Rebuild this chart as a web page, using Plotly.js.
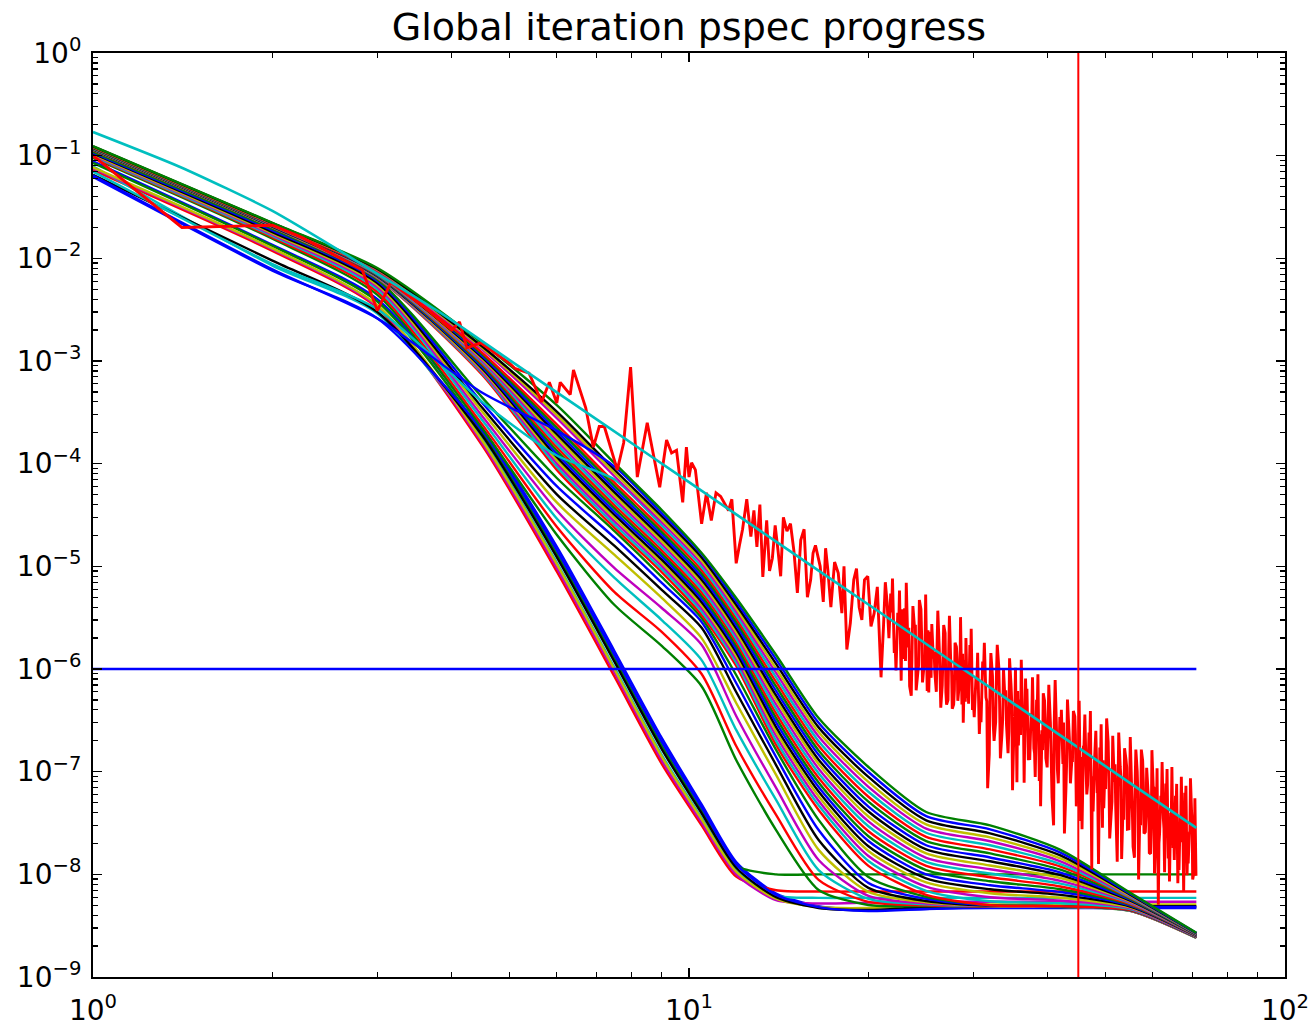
<!DOCTYPE html>
<html><head><meta charset="utf-8">
<script src="https://cdn.plot.ly/plotly-3.0.1.min.js"></script>
<style>html,body{margin:0;padding:0;background:#fff;} #chart{width:1315px;height:1026px;}</style>
</head><body><div id="chart"></div>
<script>
// shared wavenumber grid of the iteration spectra
const K_GRID = [1, 2, 3, 4.5, 6, 7.5, 9, 10.5, 12, 14, 16.5, 20, 25, 32, 42, 55, 71];

// iteration power spectra
const it00 = [0.088, 0.0135, 4.0e-3, 2.21e-4, 1.56e-5, 1.49e-6, 2.13e-7, 4.8e-8, 1.32e-8, 6.5e-9, 4.9e-9, 4.5e-9, 4.6e-9, 4.7e-9, 4.7e-9, 4.7e-9, 4.7e-9];
const it01 = [0.085, 0.0132, 3.8e-3, 1.98e-4, 1.33e-5, 1.26e-6, 1.80e-7, 4.19e-8, 1.21e-8, 1.0e-8, 1.0e-8, 1.0e-8, 1.0e-8, 1.0e-8, 1.0e-8, 1.0e-8, 1.0e-8];
const it02 = [0.072, 0.0118, 3.3e-3, 1.50e-4, 8.9e-6, 8.4e-7, 1.19e-7, 3.0e-8, 9.5e-9, 7.0e-9, 6.8e-9, 6.8e-9, 6.8e-9, 6.8e-9, 6.8e-9, 6.8e-9, 6.8e-9];
const it03 = [0.079, 0.0085, 2.9e-3, 1.72e-4, 1.09e-5, 1.03e-6, 1.46e-7, 3.54e-8, 1.08e-8, 6.2e-9, 5.9e-9, 5.9e-9, 5.9e-9, 5.9e-9, 5.9e-9, 5.9e-9, 5.9e-9];
const it04 = [0.075, 0.0122, 3.4e-3, 1.58e-4, 9.65e-6, 9.2e-7, 1.29e-7, 3.2e-8, 1.0e-8, 5.6e-9, 5.2e-9, 5.3e-9, 5.4e-9, 5.4e-9, 5.4e-9, 5.4e-9, 5.4e-9];
const it05 = [0.077, 0.0125, 3.5e-3, 1.67e-4, 1.05e-5, 9.9e-7, 1.40e-7, 3.43e-8, 1.06e-8, 5.8e-9, 4.8e-9, 4.7e-9, 5.0e-9, 5.1e-9, 5.1e-9, 5.1e-9, 5.1e-9];
const it06 = [0.065, 0.0095, 3.0e-3, 1.87e-4, 1.23e-5, 1.17e-6, 1.66e-7, 3.92e-8, 1.16e-8, 6.0e-9, 4.7e-9, 4.5e-9, 4.8e-9, 4.9e-9, 4.9e-9, 4.9e-9, 4.9e-9];
const it07 = [0.062, 0.0076, 2.6e-3, 2.09e-4, 1.44e-5, 1.37e-6, 1.96e-7, 4.48e-8, 1.25e-8, 6.3e-9, 4.8e-9, 4.4e-9, 4.6e-9, 4.8e-9, 4.8e-9, 4.8e-9, 4.8e-9];
const it08 = [0.095, 0.0155, 4.4e-3, 2.2e-4, 2.03e-5, 4.2e-6, 1.68e-6, 6.8e-7, 1.3e-7, 2.7e-8, 7.05e-9, 5.03e-9, 4.9e-9, 4.85e-9, 4.8e-9, 4.4e-9, 2.40e-9];
const it09 = [0.097, 0.016, 4.7e-3, 2.4e-4, 2.43e-5, 5.6e-6, 2.3e-6, 8.94e-7, 1.78e-7, 3.79e-8, 8.82e-9, 5.39e-9, 5.0e-9, 4.87e-9, 4.82e-9, 4.42e-9, 2.41e-9];
const it10 = [0.099, 0.0165, 5.0e-3, 2.65e-4, 2.92e-5, 7.7e-6, 3.0e-6, 1.22e-6, 2.55e-7, 5.3e-8, 1.10e-8, 5.77e-9, 5.1e-9, 4.9e-9, 4.84e-9, 4.44e-9, 2.42e-9];
const it11 = [0.101, 0.017, 5.25e-3, 2.9e-4, 3.5e-5, 9.6e-6, 3.93e-6, 1.72e-6, 3.49e-7, 6.94e-8, 1.38e-8, 6.17e-9, 5.2e-9, 4.92e-9, 4.86e-9, 4.46e-9, 2.43e-9];
const it12 = [0.103, 0.0175, 5.5e-3, 3.2e-4, 4.19e-5, 1.29e-5, 4.92e-6, 2.0e-6, 4.67e-7, 9.29e-8, 1.73e-8, 6.75e-9, 5.35e-9, 4.94e-9, 4.88e-9, 4.47e-9, 2.43e-9];
const it13 = [0.105, 0.018, 5.75e-3, 3.5e-4, 5.03e-5, 1.58e-5, 5.89e-6, 2.52e-6, 5.97e-7, 1.16e-7, 2.16e-8, 7.39e-9, 5.5e-9, 4.96e-9, 4.9e-9, 4.48e-9, 2.44e-9];
const it14 = [0.107, 0.0187, 6.0e-3, 3.9e-4, 6.03e-5, 1.9e-5, 6.89e-6, 2.87e-6, 7.3e-7, 1.39e-7, 2.70e-8, 8.25e-9, 5.77e-9, 4.98e-9, 4.9e-9, 4.49e-9, 2.45e-9];
const it15 = [0.109, 0.0193, 6.2e-3, 4.4e-4, 7.25e-5, 2.2e-5, 7.88e-6, 3.14e-6, 8.74e-7, 1.63e-7, 3.39e-8, 9.43e-9, 6.03e-9, 5.0e-9, 4.9e-9, 4.5e-9, 2.46e-9];
const it16 = [0.113, 0.0200, 6.40e-3, 7.30e-4, 8.7e-5, 2.37e-5, 8.8e-6, 3.36e-6, 1.07e-6, 1.82e-7, 4.24e-8, 1.21e-8, 6.30e-9, 5.00e-9, 4.90e-9, 4.50e-9, 2.46e-9];
const it17 = [0.114, 0.0201, 6.47e-3, 7.57e-4, 9.36e-5, 2.55e-5, 9.43e-6, 3.61e-6, 1.155e-6, 2.01e-7, 4.70e-8, 1.35e-8, 6.91e-9, 5.47e-9, 5.22e-9, 4.59e-9, 2.47e-9];
const it18 = [0.114, 0.0202, 6.55e-3, 7.84e-4, 1.006e-4, 2.74e-5, 1.01e-5, 3.88e-6, 1.246e-6, 2.23e-7, 5.21e-8, 1.51e-8, 7.59e-9, 5.98e-9, 5.56e-9, 4.67e-9, 2.48e-9];
const it19 = [0.115, 0.0203, 6.62e-3, 8.12e-4, 1.082e-4, 2.94e-5, 1.08e-5, 4.17e-6, 1.345e-6, 2.46e-7, 5.77e-8, 1.69e-8, 8.33e-9, 6.54e-9, 5.92e-9, 4.76e-9, 2.50e-9];
const it20 = [0.115, 0.0204, 6.70e-3, 8.42e-4, 1.164e-4, 3.17e-5, 1.16e-5, 4.48e-6, 1.452e-6, 2.72e-7, 6.40e-8, 1.88e-8, 9.14e-9, 7.15e-9, 6.30e-9, 4.86e-9, 2.51e-9];
const it21 = [0.116, 0.0206, 6.78e-3, 8.72e-4, 1.251e-4, 3.40e-5, 1.25e-5, 4.81e-6, 1.566e-6, 3.02e-7, 7.09e-8, 2.11e-8, 1.00e-8, 7.83e-9, 6.72e-9, 4.95e-9, 2.52e-9];
const it22 = [0.116, 0.0207, 6.85e-3, 9.04e-4, 1.345e-4, 3.66e-5, 1.34e-5, 5.17e-6, 1.69e-6, 3.34e-7, 7.86e-8, 2.35e-8, 1.10e-8, 8.56e-9, 7.15e-9, 5.05e-9, 2.53e-9];
const it23 = [0.117, 0.0208, 6.93e-3, 9.37e-4, 1.447e-4, 3.93e-5, 1.43e-5, 5.55e-6, 1.824e-6, 3.69e-7, 8.71e-8, 2.63e-8, 1.21e-8, 9.36e-9, 7.62e-9, 5.14e-9, 2.54e-9];
const it24 = [0.117, 0.0209, 7.01e-3, 9.70e-4, 1.556e-4, 4.23e-5, 1.54e-5, 5.97e-6, 1.969e-6, 4.08e-7, 9.65e-8, 2.94e-8, 1.32e-8, 1.02e-8, 8.11e-9, 5.24e-9, 2.55e-9];
const it25 = [0.118, 0.0210, 7.10e-3, 1.005e-3, 1.673e-4, 4.54e-5, 1.65e-5, 6.41e-6, 2.125e-6, 4.52e-7, 1.07e-7, 3.28e-8, 1.45e-8, 1.12e-8, 8.64e-9, 5.34e-9, 2.57e-9];
const it26 = [0.119, 0.0211, 7.18e-3, 1.042e-3, 1.80e-4, 4.88e-5, 1.76e-5, 6.89e-6, 2.294e-6, 5.00e-7, 1.19e-7, 3.66e-8, 1.60e-8, 1.22e-8, 9.21e-9, 5.45e-9, 2.58e-9];
const it27 = [0.119, 0.0212, 7.26e-3, 1.080e-3, 1.936e-4, 5.25e-5, 1.89e-5, 7.40e-6, 2.476e-6, 5.53e-7, 1.31e-7, 4.09e-8, 1.75e-8, 1.34e-8, 9.81e-9, 5.55e-9, 2.59e-9];
const it28 = [0.120, 0.0213, 7.34e-3, 1.119e-3, 2.08e-4, 5.65e-5, 2.03e-5, 7.95e-6, 2.672e-6, 6.11e-7, 1.46e-7, 4.57e-8, 1.92e-8, 1.46e-8, 1.04e-8, 5.66e-9, 2.60e-9];
const it29 = [0.120, 0.0214, 7.43e-3, 1.160e-3, 2.24e-4, 6.07e-5, 2.17e-5, 8.54e-6, 2.884e-6, 6.76e-7, 1.61e-7, 5.11e-8, 2.11e-8, 1.60e-8, 1.11e-8, 5.77e-9, 2.61e-9];
const it30 = [0.121, 0.0215, 7.51e-3, 1.202e-3, 2.41e-4, 6.53e-5, 2.33e-5, 9.18e-6, 3.11e-6, 7.48e-7, 1.79e-7, 5.70e-8, 2.32e-8, 1.75e-8, 1.19e-8, 5.88e-9, 2.62e-9];
const it31 = [0.070, 0.0088, 3.2e-3, 4.0e-4, 1.2e-4, 7.02e-5, 2.50e-5, 9.87e-6, 3.36e-6, 8.28e-7, 1.98e-7, 6.37e-8, 2.54e-8, 1.92e-8, 1.26e-8, 5.99e-9, 2.64e-9];
const it32 = [0.122, 0.0218, 7.69e-3, 1.290e-3, 2.78e-4, 7.54e-5, 2.68e-5, 1.06e-5, 3.63e-6, 9.16e-7, 2.20e-7, 7.12e-8, 2.79e-8, 2.10e-8, 1.34e-8, 6.11e-9, 2.65e-9];
const it33 = [0.122, 0.0219, 7.78e-3, 1.337e-3, 2.99e-4, 8.11e-5, 2.87e-5, 1.14e-5, 3.91e-6, 1.01e-6, 2.43e-7, 7.95e-8, 3.06e-8, 2.29e-8, 1.43e-8, 6.22e-9, 2.66e-9];
const it34 = [0.123, 0.0220, 7.87e-3, 1.386e-3, 3.22e-4, 8.72e-5, 3.08e-5, 1.22e-5, 4.22e-6, 1.12e-6, 2.70e-7, 8.88e-8, 3.36e-8, 2.51e-8, 1.53e-8, 6.34e-9, 2.67e-9];
const it35 = [0.064, 0.0078, 2.6e-3, 4.9e-4, 2.1e-4, 9.37e-5, 3.30e-5, 1.31e-5, 4.56e-6, 1.24e-6, 2.99e-7, 9.92e-8, 3.69e-8, 2.74e-8, 1.63e-8, 6.47e-9, 2.68e-9];
const it36 = [0.124, 0.0222, 8.05e-3, 1.490e-3, 3.72e-4, 1.01e-4, 3.54e-5, 1.35e-5, 4.92e-6, 1.37e-6, 3.33e-7, 1.11e-7, 4.05e-8, 3.00e-8, 1.73e-8, 6.60e-9, 2.70e-9];

// measured (noisy) power spectrum, split by wavenumber range
const dataK1 = [1, 1.41, 2, 2.24, 2.83, 3, 3.16, 3.61, 4, 4.12, 4.24, 4.47, 5, 5.1, 5.39, 5.66, 5.83, 6, 6.08, 6.32, 6.4, 6.71, 6.91, 7.07, 7.21, 7.58, 7.77, 7.98, 8.19, 8.51, 8.93, 9.17, 9.35, 9.53, 9.76, 9.9, 10, 10.1, 10.25];
const dataP1 = [0.10, 0.020, 0.021, 0.016, 7.7e-3, 3.1e-3, 5.8e-3, 3.3e-3, 2.0e-3, 2.4e-3, 1.34e-3, 1.5e-3, 9.5e-4, 8.5e-4, 7.6e-4, 4.0e-4, 6.2e-4, 3.9e-4, 6.2e-4, 4.7e-4, 8.2e-4, 3.5e-4, 1.45e-4, 2.3e-4, 2.3e-4, 8.7e-5, 1.6e-4, 8.7e-4, 7.4e-5, 2.5e-4, 5.9e-5, 1.7e-4, 1.27e-4, 1.35e-4, 4.2e-5, 1.45e-4, 7.4e-5, 1.02e-4, 8.7e-5];
const dataK2 = [10.5, 10.7, 10.9, 11.1, 11.3, 11.65, 11.8, 12, 12.15, 12.3, 12.5, 12.7, 12.85, 13, 13.15, 13.3, 13.5, 13.65, 13.8, 13.95, 14.1, 14.25, 14.4, 14.6, 14.8, 15.0, 15.2, 15.4, 15.6, 15.8, 16, 16.15, 16.3, 16.6, 16.8, 16.95, 17.1, 17.3, 17.55, 17.8, 18.05, 18.2, 18.4, 18.65, 18.9, 19.1, 19.3, 19.5, 19.7, 19.95, 20.2, 20.45, 20.7, 21, 21.2, 21.35, 21.5, 21.65];
const dataP2 = [2.6e-5, 5.2e-5, 2.8e-5, 5.2e-5, 4.8e-5, 3.5e-5, 4.5e-5, 1.07e-5, 1.6e-5, 2.3e-5, 4.5e-5, 1.95e-5, 3.5e-5, 1.55e-5, 4.0e-5, 7.9e-6, 2.8e-5, 9e-6, 1.2e-5, 2.5e-5, 1.45e-5, 8e-6, 3.0e-5, 2.2e-5, 2.6e-5, 1.4e-5, 5.5e-6, 1.8e-5, 2.3e-5, 5e-6, 7.4e-6, 1.35e-5, 1.6e-5, 1.0e-5, 4.5e-6, 1.5e-5, 9.2e-6, 4.0e-6, 1.1e-5, 8.6e-6, 3.5e-6, 1.0e-5, 1.55e-6, 2.8e-6, 7.4e-6, 9.5e-6, 4.0e-6, 3.0e-6, 7.4e-6, 8.0e-6, 2.6e-6, 3.5e-6, 6.3e-6, 8.3e-7, 2.6e-6, 7.0e-6, 4.4e-6, 2.0e-6];
const dataK3 = [21.8, 21.95, 22.1, 22.25, 22.4, 22.55, 22.7, 22.85, 23.0, 23.15, 23.3, 23.45, 23.6, 23.75, 23.9, 24.05, 24.2, 24.35, 24.5, 24.65, 24.8, 24.95, 25.1, 25.25, 25.4, 25.55, 25.7, 25.85, 26.0, 26.15, 26.3, 26.45, 26.6, 26.75, 26.9, 27.05, 27.2, 27.35, 27.5, 27.65, 27.8, 27.95, 28.1, 28.25, 28.4, 28.55, 28.7, 28.85, 29.0, 29.15, 29.3, 29.45, 29.6, 29.75, 29.9, 30.1];
const dataP3 = [5.42e-6, 7.6e-6, 1.43e-6, 9.7e-7, 3.52e-6, 5.8e-6, 7.7e-7, 1.25e-6, 3.9e-6, 6.9e-6, 1.62e-6, 6.8e-7, 5.5e-7, 4.1e-6, 2.52e-6, 6.2e-7, 9.0e-7, 4.7e-6, 3.82e-6, 7.4e-7, 1.09e-6, 5.3e-6, 6.1e-7, 5.9e-7, 2.31e-6, 2.74e-6, 1.26e-6, 9.2e-7, 6.0e-7, 3.7e-6, 1.58e-6, 4.2e-7, 6.9e-7, 2.68e-6, 2.23e-6, 4.5e-7, 5.0e-7, 3.3e-6, 1.08e-6, 4.1e-7, 4.5e-7, 1.8e-6, 1.65e-6, 4.9e-7, 6.9e-7, 3.2e-6, 4.5e-7, 3.0e-7, 1.22e-6, 2.0e-6, 5.2e-7, 4.6e-7, 1.71e-6, 2.47e-6, 4.0e-7, 3.4e-7];
const dataK4 = [30.3, 30.5, 30.7, 30.9, 31.1, 31.3, 31.5, 31.7, 31.9, 32.1, 32.3, 32.5, 32.7, 32.9, 33.1, 33.3, 33.5, 33.7, 33.9, 34.1, 34.3, 34.5, 34.7, 34.9, 35.1, 35.3, 35.5, 35.7, 35.9, 36.1, 36.3, 36.5, 36.7, 36.9, 37.1, 37.3, 37.5, 37.7, 37.9, 38.1, 38.3, 38.5, 38.7, 38.9, 39.1, 39.3, 39.5, 39.7, 39.9, 40.15];
const dataP4 = [8.2e-7, 1.44e-6, 2.33e-7, 3.03e-7, 1.18e-6, 1.8e-6, 5.27e-7, 6.9e-8, 1.47e-7, 1.43e-6, 8.59e-7, 1.99e-7, 3.03e-7, 1.72e-6, 1.04e-6, 1.35e-7, 2.31e-7, 1.02e-6, 5.0e-7, 2.83e-7, 1.51e-7, 1.27e-6, 6.95e-7, 6.6e-8, 2.75e-7, 1.03e-6, 7.9e-8, 1.8e-7, 5.03e-7, 1.23e-6, 2.81e-7, 7.8e-8, 8.06e-7, 6.4e-7, 1.29e-7, 1.3e-7, 3.7e-7, 8.3e-7, 1.69e-7, 8.9e-8, 5.02e-7, 8.9e-7, 8.1e-8, 4.6e-8, 2.53e-7, 5.8e-7, 4.88e-7, 1.35e-7, 1.1e-7, 7.0e-7];
const dataK5 = [40.4, 40.65, 40.9, 41.15, 41.4, 41.65, 41.9, 42.15, 42.4, 42.65, 42.9, 43.15, 43.4, 43.65, 43.9, 44.15, 44.4, 44.65, 44.9, 45.15, 45.4, 45.65, 45.9, 46.15, 46.4, 46.65, 46.9, 47.15, 47.4, 47.65, 47.9, 48.15, 48.4, 48.65, 48.9, 49.15, 49.4, 49.65, 49.9, 50.2];
const dataP5 = [3.01e-7, 5.6e-8, 3.0e-8, 7.8e-7, 2.14e-7, 7.7e-8, 3.41e-7, 4.0e-7, 1.19e-7, 2.5e-8, 6.8e-8, 5.05e-7, 2.57e-7, 7.7e-8, 1.32e-7, 3.9e-7, 3.44e-7, 4.6e-8, 7.8e-8, 4.9e-7, 3.3e-8, 2.75e-8, 1.75e-7, 3.6e-7, 9.1e-8, 7.5e-8, 2.41e-7, 3.9e-7, 1.12e-8, 4.1e-8, 1.27e-7, 2.5e-7, 6.4e-8, 1.26e-8, 1.72e-7, 2.9e-7, 2.84e-8, 4.4e-8, 1.14e-7, 3.3e-7];
const dataK6 = [50.5, 50.8, 51.1, 51.4, 51.7, 52.0, 52.3, 52.6, 52.9, 53.2, 53.5, 53.8, 54.1, 54.4, 54.7, 55.0, 55.3, 55.6, 55.9, 56.2, 56.5, 56.8, 57.1, 57.4, 57.7, 58.0, 58.3, 58.6, 58.9, 59.2, 59.5, 59.8, 60.1, 60.4, 60.7, 61.0, 61.3, 61.6, 61.9, 62.2, 62.5, 62.8, 63.1, 63.4, 63.7, 64.0, 64.3, 64.6, 64.9, 65.2, 65.5, 65.8, 66.1, 66.4, 66.7, 67.0, 67.3, 67.6, 67.9, 68.2, 68.5, 68.8, 69.1, 69.4, 69.7, 70.0, 70.3, 70.6, 70.9];
const dataP6 = [1.96e-7, 2.24e-8, 3.95e-8, 2.24e-7, 7.94e-8, 4.4e-8, 1.33e-8, 2.4e-7, 1.13e-7, 1.41e-8, 4.75e-8, 1.69e-7, 1.32e-7, 2.75e-8, 2.77e-8, 2.17e-7, 6.82e-8, 1.86e-8, 1.45e-8, 1.64e-7, 1.01e-7, 8.9e-9, 4.34e-8, 1.64e-7, 1.28e-7, 2.5e-8, 2.59e-8, 1.09e-7, 6.51e-8, 1.62e-8, 1.59e-8, 1.62e-7, 7.1e-8, 1.02e-8, 2.63e-8, 1.08e-7, 5.05e-9, 2.5e-8, 5.83e-8, 1.24e-7, 3.5e-8, 1.05e-8, 7.65e-8, 1.06e-7, 1.43e-8, 8.5e-9, 3.97e-8, 1.11e-7, 1.81e-8, 1.38e-8, 5.82e-8, 7.6e-8, 8.2e-9, 1.1e-8, 3.79e-8, 8.9e-8, 2.09e-8, 6.8e-9, 6.22e-8, 7.3e-8, 9.8e-9, 1.28e-8, 2.51e-8, 8.6e-8, 4.09e-8, 8.9e-9, 1.03e-8, 5.5e-8, 9.7e-9];
const dataK7 = [30.4, 30.8, 31.2, 31.6, 32.0, 32.4, 32.8, 33.2, 33.6, 34.0, 34.4, 34.8, 35.2, 35.6, 36.0, 36.4, 36.8, 37.2, 37.6, 38.0, 38.4, 38.8, 39.2, 39.6, 40.0, 40.5, 41.0, 41.5, 42.0, 42.5, 43.0, 43.5, 44.0, 44.5, 45.0, 45.5, 46.0, 46.5, 47.0, 47.5, 48.0, 48.5, 49.0, 49.5, 50.0, 50.65, 51.25, 51.85, 52.45, 53.05, 53.65, 54.25, 54.85, 55.45, 56.05, 56.65, 57.25, 57.85, 58.45, 59.05, 59.65, 60.25, 60.85, 61.45, 62.05, 62.65, 63.25, 63.85, 64.45, 65.05, 65.65, 66.25, 66.85, 67.45, 68.05, 68.65, 69.25, 69.85, 70.45];
const dataP7 = [7.3e-7, 3.84e-7, 9.5e-7, 4.85e-7, 7.3e-7, 2.83e-7, 9.0e-7, 4.57e-7, 3.27e-7, 6.2e-7, 2.48e-7, 4.74e-7, 3.17e-7, 6.1e-7, 2.28e-7, 3.56e-7, 4.56e-7, 2.18e-7, 3.49e-7, 1.51e-7, 4.17e-7, 2.31e-7, 1.62e-7, 3.12e-7, 2.18e-7, 1.56e-7, 2.96e-7, 1.06e-7, 2.03e-7, 3.01e-7, 1.13e-7, 1.96e-7, 1.31e-7, 2.33e-7, 8.6e-8, 1.39e-7, 1.81e-7, 6.0e-8, 1.45e-7, 9.0e-8, 1.66e-7, 6.4e-8, 9.8e-8, 1.29e-7, 6.8e-8, 8.6e-8, 5.1e-8, 1.18e-7, 6.1e-8, 8.9e-8, 3.4e-8, 1.1e-7, 5.5e-8, 4.1e-8, 7.9e-8, 5.9e-8, 3.0e-8, 7.9e-8, 3.7e-8, 5.6e-8, 2.8e-8, 7.0e-8, 3.9e-8, 2.0e-8, 5.05e-8, 2.78e-8, 5.3e-8, 2.15e-8, 3.7e-8, 2.8e-8, 4.4e-8, 1.67e-8, 3.6e-8, 2.07e-8, 4.3e-8, 1.77e-8, 2.64e-8, 3.3e-8, 1.46e-8];
const dataK8 = [21.88, 22.18, 22.48, 22.78, 23.08, 23.38, 23.68, 23.98, 24.28, 24.58, 24.88, 25.18, 25.48, 25.78, 26.08, 26.38, 26.68, 26.98, 27.28, 27.58, 27.88, 28.18, 28.48, 28.78, 29.08, 29.38, 29.68, 29.98];
const dataP8 = [3.56e-6, 1.69e-6, 2.4e-6, 3.81e-6, 1.2e-6, 2.52e-6, 1.64e-6, 2.7e-6, 1.09e-6, 1.89e-6, 1.26e-6, 2.39e-6, 8.2e-7, 1.48e-6, 1.78e-6, 8.5e-7, 1.43e-6, 5.9e-7, 1.61e-6, 9.5e-7, 6.3e-7, 1.25e-6, 7.4e-7, 1.41e-6, 4.8e-7, 8.3e-7, 9.8e-7, 5.1e-7];

// model spectrum
const modelK = [1, 1.4, 2, 2.7, 3.83, 5, 7, 10, 14, 20, 28, 40, 56, 71];
const modelP = [0.170, 0.0776, 0.029, 0.0103, 2.94e-3, 1.02e-3, 2.7e-4, 6.6e-5, 1.74e-5, 4.25e-6, 1.12e-6, 2.73e-7, 7.2e-8, 2.83e-8];

// reference lines
const hlineK = [1, 71];
const hlineP = [1e-6, 1e-6];
const vlineK = [45, 45];
const vlineP = [1e-9, 1];

// axis ticks
const xTickVals = [1, 10, 100];
const xTickText = ['10<sup>0</sup>', '10<sup>1</sup>', '10<sup>2</sup>'];
const yTickVals = [1e-9, 1e-8, 1e-7, 1e-6, 1e-5, 1e-4, 1e-3, 1e-2, 1e-1, 1];
const yTickText = ['10<sup>\u22129</sup>', '10<sup>\u22128</sup>', '10<sup>\u22127</sup>', '10<sup>\u22126</sup>', '10<sup>\u22125</sup>', '10<sup>\u22124</sup>', '10<sup>\u22123</sup>', '10<sup>\u22122</sup>', '10<sup>\u22121</sup>', '10<sup>0</sup>'];

const COLORS = ['#0000ff', '#008000', '#ff0000', '#00bfbf', '#bf00bf', '#bfbf00', '#000000'];
const iterations = [it00, it01, it02, it03, it04, it05, it06, it07, it08, it09, it10, it11, it12, it13, it14, it15, it16, it17, it18, it19, it20, it21, it22, it23, it24, it25, it26, it27, it28, it29, it30, it31, it32, it33, it34, it35, it36];

const traces = iterations.map((ys, i) => ({
  type: 'scatter', mode: 'lines', x: K_GRID, y: ys,
  line: {color: COLORS[i % 7], width: 2.4, shape: 'spline', smoothing: 0.7},
  hoverinfo: 'skip', showlegend: false
}));

// measured spectrum: merge the ranges and order the samples by wavenumber
const allK = dataK1.concat(dataK2, dataK3, dataK4, dataK5, dataK6, dataK7, dataK8);
const allP = dataP1.concat(dataP2, dataP3, dataP4, dataP5, dataP6, dataP7, dataP8);
const order = allK.map((k, i) => i).sort((a, b) => allK[a] - allK[b]);
traces.push({type: 'scatter', mode: 'lines',
  x: order.map(i => allK[i]), y: order.map(i => allP[i]),
  line: {color: '#ff0000', width: 2.9, simplify: false}, showlegend: false});
traces.push({type: 'scatter', mode: 'lines', x: modelK, y: modelP,
  line: {color: '#00bfbf', width: 2.6, shape: 'spline', smoothing: 0.6}, showlegend: false});
traces.push({type: 'scatter', mode: 'lines', x: hlineK, y: hlineP,
  line: {color: '#0000ff', width: 2.3}, showlegend: false});
traces.push({type: 'scatter', mode: 'lines', x: vlineK, y: vlineP,
  line: {color: '#ff0000', width: 2}, showlegend: false});

const axisCommon = {
  type: 'log', showgrid: false, zeroline: false, showline: true,
  linecolor: '#000', linewidth: 2, mirror: 'allticks',
  ticks: 'inside', ticklen: 9, tickwidth: 1.4, tickcolor: '#000',
  tickmode: 'array', tickfont: {size: 28, family: 'DejaVu Sans', color: '#000'},
  minor: {ticks: 'inside', ticklen: 5, tickwidth: 1.2, tickcolor: '#000', dtick: 'D1', showgrid: false}
};

const layout = {
  width: 1315, height: 1026,
  paper_bgcolor: '#ffffff', plot_bgcolor: '#ffffff',
  margin: {l: 93, r: 30, t: 53, b: 49, pad: 0},
  showlegend: false,
  font: {family: 'DejaVu Sans, sans-serif', color: '#000'},
  title: {text: 'Global iteration pspec progress', font: {size: 38, family: 'DejaVu Sans', color: '#000'},
    x: 0.5, xref: 'paper', xanchor: 'center', y: 1 - 27 / 1026, yref: 'container', yanchor: 'middle'},
  xaxis: Object.assign({}, axisCommon, {range: [0, 2], tickvals: xTickVals, ticktext: xTickText, ticklabelstandoff: 7}),
  yaxis: Object.assign({}, axisCommon, {range: [-9, 0], tickvals: yTickVals, ticktext: yTickText, ticklabelstandoff: 4})
};

Plotly.newPlot('chart', traces, layout, {displayModeBar: false, staticPlot: true});
</script>
</body></html>
